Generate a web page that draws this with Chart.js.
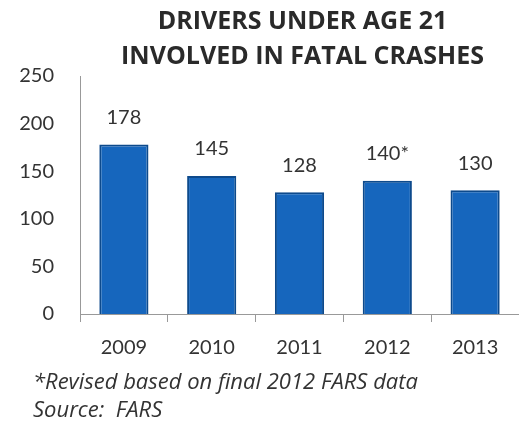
<!DOCTYPE html>
<html>
<head>
<meta charset="utf-8">
<script src="https://cdn.jsdelivr.net/npm/chart.js@4"></script>
<style>
html,body{margin:0;padding:0;background:#fff;}
#wrap{width:519px;height:423px;position:relative;}
</style>
</head>
<body>
<div id="wrap"><canvas id="c" width="519" height="423"></canvas></div>
<script>
const categories = ['2009', '2010', '2011', '2012', '2013'];
const drivers = [178, 145, 128, 140, 130];
const valueLabels = ['178', '145', '128', '140*', '130'];
const yTicks = [0, 50, 100, 150, 200, 250];
const titleLines = ['DRIVERS UNDER AGE 21', 'INVOLVED IN FATAL CRASHES'];
const footnotes = ['*Revised based on final 2012 FARS data', 'Source:  FARS'];

const FONT = 'Lato, "Open Sans", sans-serif';
const TFONT = '"Open Sans", Lato, sans-serif';

const textPlugin = {
  id: 'textPlugin',
  afterDatasetsDraw(chart) {
    const ctx = chart.ctx;
    const area = chart.chartArea;
    ctx.save();
    // title
    ctx.fillStyle = '#2a2a2a';
    ctx.textAlign = 'center';
    ctx.textBaseline = 'middle';
    ctx.font = 'bold 25px ' + TFONT;
    const cx = (area.left + area.right) / 2 + 3;
    ctx.fillText(titleLines[0], cx, 22);
    ctx.fillText(titleLines[1], cx, 57);
    // value labels
    ctx.fillStyle = '#333';
    ctx.font = '20px ' + FONT;
    const meta = chart.getDatasetMeta(0);
    meta.data.forEach((bar, i) => {
      ctx.fillText(valueLabels[i], bar.x, bar.y - 27);
    });
    // footnotes
    ctx.textAlign = 'left';
    ctx.font = 'italic 22px ' + TFONT;
    ctx.fillText(footnotes[0], 33, 383);
    ctx.fillText(footnotes[1], 33, 411);
    ctx.restore();
  }
};

new Chart(document.getElementById('c'), {
  type: 'bar',
  data: {
    labels: categories,
    datasets: [{
      data: drivers,
      backgroundColor: '#1666bd',
      borderColor: '#0d4a8c',
      borderWidth: 2,
      categoryPercentage: 1.0,
      barPercentage: 0.56
    }]
  },
  options: {
    responsive: false,
    animation: false,
    layout: { padding: { top: 76, bottom: 64, left: 0, right: 0 } },
    plugins: { legend: { display: false }, title: { display: false }, tooltip: { enabled: false } },
    scales: {
      x: {
        grid: { display: true, drawOnChartArea: false, drawTicks: true, tickLength: 8, offset: true, color: '#999' },
        border: { display: true, color: '#999', width: 1 },
        ticks: { color: '#333', font: { family: FONT, size: 20 }, padding: 14 },
        afterFit(scale) { scale.height = 45; }
      },
      y: {
        min: 0, max: 250,
        afterBuildTicks(scale) { scale.ticks = yTicks.map(v => ({ value: v })); },
        grid: { display: false },
        border: { display: true, color: '#999', width: 1 },
        ticks: { color: '#333', font: { family: FONT, size: 20 }, padding: 18 },
        afterFit(scale) { scale.width = 80; }
      }
    }
  },
  plugins: [textPlugin]
});
</script>
</body>
</html>
